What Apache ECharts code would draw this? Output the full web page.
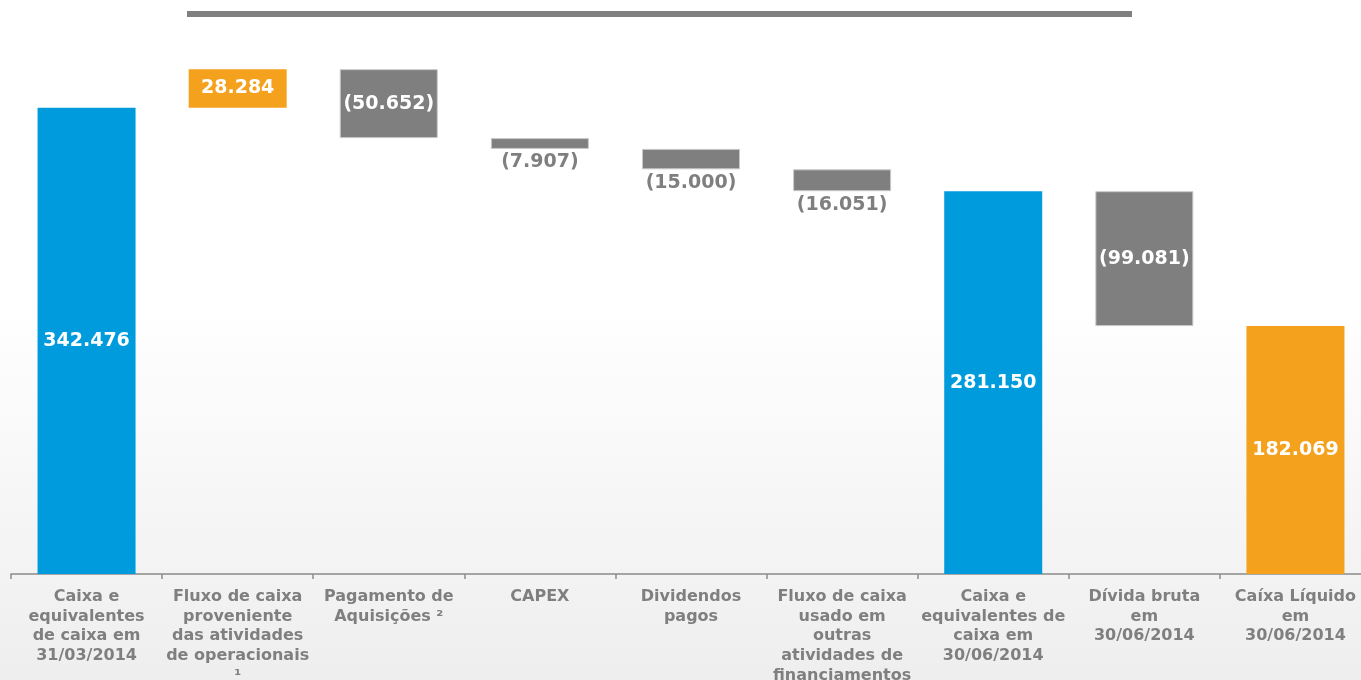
<!DOCTYPE html>
<html>
<head>
<meta charset="utf-8">
<script src="https://cdn.jsdelivr.net/npm/echarts@6/dist/echarts.min.js"></script>
<style>
html,body{margin:0;padding:0;background:#fff;}
#chart{width:1361px;height:680px;}
</style>
</head>
<body>
<div id="chart"></div>
<script>
// Data
const categories = [
  "Caixa e\nequivalentes\nde caixa em\n31/03/2014",
  "Fluxo de caixa\nproveniente\ndas atividades\nde operacionais\n¹",
  "Pagamento de\nAquisições ²",
  "CAPEX",
  "Dividendos\npagos",
  "Fluxo de caixa\nusado em\noutras\natividades de\nfinanciamentos",
  "Caixa e\nequivalentes de\ncaixa em\n30/06/2014",
  "Dívida bruta\nem\n30/06/2014",
  "Caíxa Líquido\nem\n30/06/2014"
];
const amounts = [342.476, 28.284, -50.652, -7.907, -15.000, -16.051, 281.150, -99.081, 182.069];
const kinds = ["total", "up", "down", "down", "down", "down", "total", "down", "net"];
const valueLabels = ["342.476", "28.284", "(50.652)", "(7.907)", "(15.000)", "(16.051)", "281.150", "(99.081)", "182.069"];
const labelOutside = [false, false, false, true, true, true, false, false, false];

const BLUE = "#009BDC", ORANGE = "#F4A11D", GRAY = "#7F7F7F";
const colorFor = { total: BLUE, up: ORANGE, down: GRAY, net: ORANGE };

// Build waterfall
const base = [], heights = [];
let running = 0;
amounts.forEach((v, i) => {
  const k = kinds[i];
  if (k === "total" || k === "net") {
    base.push(0); heights.push(v); running = v;
  } else if (v >= 0) {
    base.push(running); heights.push(v); running += v;
  } else {
    running += v; base.push(running); heights.push(-v);
  }
});

const valueData = heights.map((h, i) => ({
  value: h,
  itemStyle: {
    color: colorFor[kinds[i]],
    borderColor: kinds[i] === "down" ? "#c8c8c8" : colorFor[kinds[i]],
    borderWidth: kinds[i] === "down" ? 1 : 0
  },
  label: {
    show: true,
    formatter: valueLabels[i],
    position: labelOutside[i] ? "bottom" : "inside",
    distance: 4,
    color: labelOutside[i] ? GRAY : "#ffffff"
  }
}));

const chart = echarts.init(document.getElementById("chart"), null, { renderer: "canvas" });
chart.setOption({
  animation: false,
  backgroundColor: {
    type: "linear", x: 0, y: 0, x2: 0, y2: 1,
    colorStops: [
      { offset: 0, color: "#ffffff" },
      { offset: 0.45, color: "#ffffff" },
      { offset: 1, color: "#eeeeee" }
    ]
  },
  graphic: [{
    type: "rect",
    shape: { x: 187, y: 11, width: 945, height: 6 },
    style: { fill: "#808080" }
  }],
  grid: { left: 11, right: -10, top: 13, bottom: 106, containLabel: false, outerBoundsMode: "none" },
  xAxis: {
    type: "category",
    data: categories,
    axisLine: { show: true, lineStyle: { color: "#8c8c8c", width: 1.5 } },
    axisTick: { show: true, length: 5, lineStyle: { color: "#8c8c8c", width: 1.5 } },
    axisLabel: {
      interval: 0,
      margin: 13,
      color: GRAY,
      fontFamily: "DejaVu Sans",
      fontWeight: "bold",
      fontSize: 16,
      lineHeight: 19.7,
      align: "center"
    }
  },
  yAxis: {
    type: "value",
    min: 0,
    max: 412,
    show: false,
    splitLine: { show: false }
  },
  series: [
    {
      type: "bar",
      stack: "wf",
      data: base,
      barWidth: 98,
      itemStyle: { color: "transparent" },
      emphasis: { disabled: true },
      silent: true
    },
    {
      type: "bar",
      stack: "wf",
      data: valueData,
      barWidth: 98,
      label: {
        show: true,
        fontFamily: "DejaVu Sans",
        fontWeight: "bold",
        fontSize: 19
      }
    }
  ]
});
</script>
</body>
</html>
